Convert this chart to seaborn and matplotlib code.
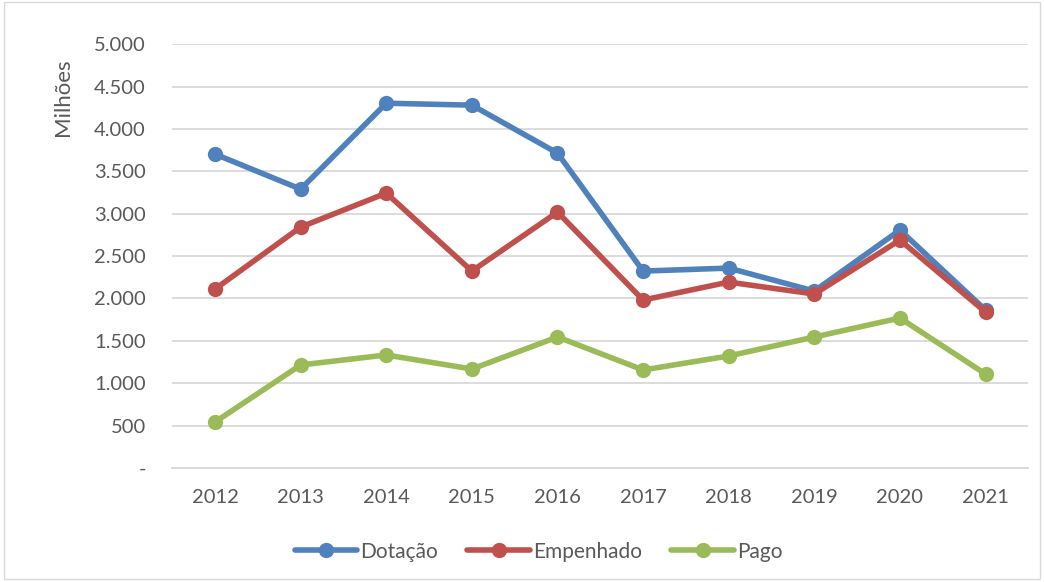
import seaborn as sns
import matplotlib.pyplot as plt
import matplotlib.ticker as mticker
import pandas as pd
from matplotlib.patches import Rectangle

anos = ['2012', '2013', '2014', '2015', '2016', '2017', '2018', '2019', '2020', '2021']
dotacao = [3703, 3290, 4304, 4281, 3715, 2323, 2358, 2087, 2807, 1863]
empenhado = [2111, 2842, 3243, 2323, 3019, 1981, 2193, 2052, 2689, 1840]
pago = [542, 1215, 1333, 1167, 1545, 1156, 1321, 1545, 1769, 1108]

series = {'Dotação': dotacao, 'Empenhado': empenhado, 'Pago': pago}
cores = {'Dotação': '#4F81BD', 'Empenhado': '#C0504D', 'Pago': '#9BBB59'}

df = pd.DataFrame([
    {'Ano': a, 'Serie': nome, 'Valor': v}
    for nome, vals in series.items()
    for a, v in zip(anos, vals)
])

sns.set_style('white')
plt.rcParams['font.family'] = ['Lato', 'DejaVu Sans']
texto = '#595959'

fig = plt.figure(figsize=(10.44, 5.82), dpi=100)
ax = fig.add_axes([0.165, 0.196, 0.82, 0.728])

sns.lineplot(data=df, x='Ano', y='Valor', hue='Serie', palette=cores,
             marker='o', markersize=11, markeredgewidth=0, linewidth=4,
             sort=False, ax=ax)

ax.set_xlim(-0.5, len(anos) - 0.5)
ax.set_ylim(0, 5000)
ax.yaxis.set_major_locator(mticker.MultipleLocator(500))


def fmt(v, pos):
    if v == 0:
        return '-'
    return f'{int(v):,}'.replace(',', '.')


ax.yaxis.set_major_formatter(mticker.FuncFormatter(fmt))
ax.grid(axis='y', color='#D9D9D9', linewidth=1.3)
ax.set_axisbelow(True)
for s in ['top', 'right', 'left']:
    ax.spines[s].set_visible(False)
ax.spines['bottom'].set_color('#D9D9D9')
ax.spines['bottom'].set_linewidth(1.3)
ax.tick_params(axis='both', length=0, labelsize=14.5, colors=texto)
ax.tick_params(axis='y', pad=19)
ax.tick_params(axis='x', pad=15)
ax.set_xlabel('')
ax.set_ylabel('Milhões', fontsize=16, color=texto)
ax.yaxis.set_label_coords(-0.116, 0.875)

handles, labels = ax.get_legend_handles_labels()
ax.legend(handles, labels, loc='upper center', bbox_to_anchor=(0.428, -0.13),
          ncol=3, frameon=False, fontsize=15, labelcolor=texto,
          handlelength=3.0, handletextpad=0.15, columnspacing=1.4)

fig.add_artist(Rectangle((0.004, 0.006), 0.992, 0.99, transform=fig.transFigure,
                         fill=False, edgecolor='#D9D9D9', linewidth=1))

fig.savefig('out.png', dpi=100)
